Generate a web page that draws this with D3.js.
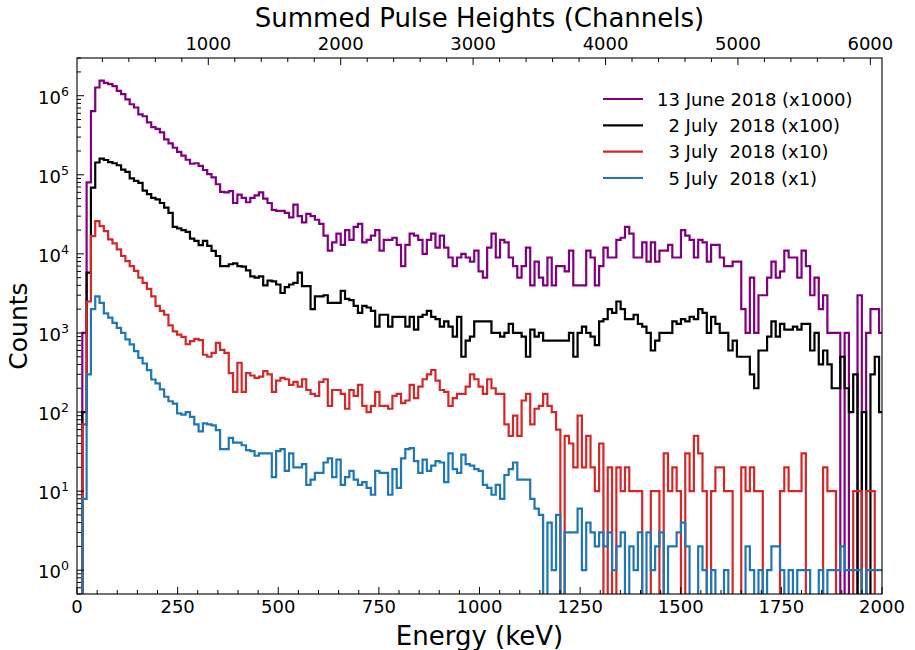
<!DOCTYPE html>
<html>
<head>
<meta charset="utf-8">
<script src="https://cdn.jsdelivr.net/npm/d3@7"></script>
<style>
  body { margin: 0; background: #fff; }
  text { font-family: "DejaVu Sans", sans-serif; fill: #000; }
</style>
</head>
<body>
<svg id="chart" width="915" height="650"></svg>
<script>
// Histogram binning (keV)
const binStart = 2.5;
const binWidth = 10.7;

// Raw counts per bin for each run (scaled by the factor in the legend when drawn)
const june13 = [0,1,80,640,1270,1550,1450,1400,1320,1150,
  1050,900,780,710,580,550,460,400,380,345,
  280,250,220,195,175,155,138,140,130,115,
  102,93,76,61,60,62,44,56,51,45,
  51,55,60,50,44,36,35,35,33,29,
  42,30,25,32,30,27,24,17,11,14,
  18,13,20,15,22,24,14,15,17,20,
  11,15,15,16,13,7,13,18,17,15,
  10,15,18,12,17,12,9,7,9,10,
  9,8,11,6,5,12,18,9,15,14,
  9,7,5,7,12,4,8,5,4,9,
  4,7,7,6,11,4,4,4,11,9,
  4,7,12,9,9,15,16,22,18,9,
  9,14,8,14,8,11,11,13,9,9,
  20,17,15,9,15,14,8,13,13,9,
  7,7,8,8,2,1,5,1,3,3,
  5,8,5,6,11,9,9,5,11,7,
  3,5,2,3,1,1,1,0,1,0,
  0,3,0,1,2,2,1];

const july2 = [0,1,58,690,1430,1600,1540,1450,1400,1320,
  1160,1090,900,840,790,630,570,510,490,440,
  385,330,220,210,200,190,156,146,129,146,
  126,109,94,70,70,74,76,70,69,62,
  52,50,52,40,46,45,41,32,38,41,
  43,58,39,39,20,29,29,30,24,24,
  24,34,27,26,22,18,22,21,19,12,
  17,17,12,16,16,16,12,16,11,16,
  17,19,16,15,12,14,12,9,16,5,
  8,9,14,14,14,14,10,10,9,10,
  13,10,10,9,5,11,9,10,8,8,
  8,8,8,8,10,5,10,12,10,9,
  7,14,15,20,18,25,20,15,15,17,
  13,12,10,6,8,10,10,10,14,13,
  15,14,16,15,20,18,10,16,13,10,
  10,6,8,5,5,5,3,2,6,6,
  9,14,9,13,11,11,12,11,13,13,
  6,10,4,6,4,2,2,5,2,1,
  3,0,1,0,3,5,1];

const july3 = [0,7,250,1680,2600,2250,1940,1530,1360,1140,
  940,810,700,610,500,430,360,290,220,190,
  170,125,105,95,89,72,79,84,81,53,
  50,56,75,61,56,31,18,42,18,31,
  29,27,28,33,30,18,25,27,26,22,
  24,21,26,19,17,16,24,26,12,19,
  19,17,11,19,16,22,12,10,12,18,
  12,12,11,16,17,13,14,22,15,21,
  26,30,34,25,19,18,12,15,17,17,
  21,30,26,21,17,26,20,17,17,7,
  5,9,5,14,17,7,11,12,17,12,
  10,6,0,5,4,2,9,2,5,2,
  1,4,0,2,0,2,1,2,1,1,
  1,0,0,1,1,0,3,1,2,1,
  0,3,1,5,3,1,0,1,2,2,
  1,1,0,0,2,1,2,1,1,0,
  0,0,0,1,2,1,1,1,3,0,
  0,0,0,2,1,1,0,0,0,0,
  1,1,0,1,1,0,0];

const july5 = [0,8,300,2000,2900,2400,1770,1560,1340,1160,
  1000,830,716,590,485,411,339,258,230,193,
  156,137,128,96,93,100,87,70,57,72,
  70,68,59,34,34,47,41,41,38,33,
  32,28,30,30,30,15,32,34,18,30,
  20,20,22,12,14,17,17,23,26,15,
  25,12,15,18,14,12,13,11,9,18,
  17,17,9,19,11,26,34,35,24,17,
  25,18,21,24,23,13,30,19,17,29,
  22,21,19,18,12,11,9,12,8,16,
  19,23,14,14,14,8,6,5,0,4,
  1,5,0,3,3,3,6,1,4,3,
  2,3,2,3,1,2,3,0,2,1,
  3,0,3,1,2,3,0,2,2,3,
  4,2,0,0,2,1,0,1,0,0,
  1,0,0,0,0,2,1,0,1,0,
  1,2,2,1,0,1,0,1,1,1,
  0,0,1,0,1,1,1,2,1,1,
  1,1,0,1,1,1,1];

const seriesCounts = [june13, july2, july3, july5];
const seriesScales = [1000, 100, 10, 1];
const seriesLabels = ["13 June 2018 (x1000)", "  2 July  2018 (x100)",
                      "  3 July  2018 (x10)", "  5 July  2018 (x1)"];
const seriesColors = ["#800080", "#000000", "#d62728", "#1f77b4"];

const energyTicks = [0, 250, 500, 750, 1000, 1250, 1500, 1750, 2000];
const channelTicks = [1000, 2000, 3000, 4000, 5000, 6000];
const countExponents = [0, 1, 2, 3, 4, 5, 6];

// Layout
const L = 77, R = 882, T = 58, B = 594;
const svg = d3.select("#chart");
svg.append("rect").attr("width", 915).attr("height", 650).attr("fill", "#fff");

const x = d3.scaleLinear().domain([0, 2000]).range([L, R]);
const xTop = d3.scaleLinear().domain([8.3, 6088]).range([L, R]);
const y = d3.scaleLog().domain([0.5, 3e6]).range([B, T]);

svg.append("clipPath").attr("id", "plotClip")
  .append("rect").attr("x", L).attr("y", T).attr("width", R - L).attr("height", B - T);

// Step outline for a histogram; empty bins fall below the visible range
function stepPath(counts, scale) {
  const below = B + 60;
  const yv = c => c > 0 ? y(c * scale) : below;
  const pts = [[x(binStart), below]];
  counts.forEach((c, i) => {
    const e0 = binStart + i * binWidth, e1 = e0 + binWidth;
    pts.push([x(e0), yv(c)], [x(e1), yv(c)]);
  });
  pts.push([x(binStart + counts.length * binWidth), below]);
  return d3.line()(pts);
}

const plot = svg.append("g").attr("clip-path", "url(#plotClip)");
seriesCounts.forEach((counts, i) => {
  plot.append("path")
    .attr("d", stepPath(counts, seriesScales[i]))
    .attr("fill", "none")
    .attr("stroke", seriesColors[i])
    .attr("stroke-width", 2.2)
    .attr("stroke-linejoin", "miter");
});

// Frame
svg.append("rect").attr("x", L).attr("y", T).attr("width", R - L).attr("height", B - T)
  .attr("fill", "none").attr("stroke", "#000").attr("stroke-width", 1.1);

const ticks = svg.append("g").attr("stroke", "#000").attr("stroke-width", 1);
const MAJ = 7, MIN = 4;

// Bottom energy axis (ticks point inward)
d3.range(0, 2001, 50).forEach(v => {
  const major = v % 250 === 0;
  ticks.append("line").attr("x1", x(v)).attr("x2", x(v))
    .attr("y1", B).attr("y2", B - (major ? MAJ : MIN));
});
svg.append("g").selectAll("text").data(energyTicks).join("text")
  .attr("x", d => x(d)).attr("y", 613).attr("text-anchor", "middle")
  .attr("font-size", 18).text(d => d);

// Top channel axis
d3.range(200, 6001, 200).forEach(v => {
  const major = v % 1000 === 0;
  ticks.append("line").attr("x1", xTop(v)).attr("x2", xTop(v))
    .attr("y1", T).attr("y2", T + (major ? MAJ : MIN));
});
svg.append("g").selectAll("text").data(channelTicks).join("text")
  .attr("x", d => xTop(d)).attr("y", 50).attr("text-anchor", "middle")
  .attr("font-size", 18).text(d => d);

// Left log axis
for (let k = -1; k <= 6; k++) {
  for (let j = 1; j <= 9; j++) {
    const v = j * Math.pow(10, k);
    if (v < 0.5 || v > 3e6) continue;
    ticks.append("line").attr("x1", L).attr("x2", L + (j === 1 ? MAJ : MIN))
      .attr("y1", y(v)).attr("y2", y(v));
  }
}
const yl = svg.append("g").selectAll("text").data(countExponents).join("text")
  .attr("x", 69).attr("y", d => y(Math.pow(10, d)) + 8)
  .attr("text-anchor", "end").attr("font-size", 18);
yl.append("tspan").text("10");
yl.append("tspan").attr("dy", -8).attr("font-size", 12.6).text(d => d);

// Axis titles
svg.append("text").attr("x", (L + R) / 2).attr("y", 645).attr("text-anchor", "middle")
  .attr("font-size", 26).text("Energy (keV)");
svg.append("text").attr("x", (L + R) / 2).attr("y", 27).attr("text-anchor", "middle")
  .attr("font-size", 26).text("Summed Pulse Heights (Channels)");
svg.append("text").attr("transform", `translate(27,${(T + B) / 2}) rotate(-90)`)
  .attr("text-anchor", "middle").attr("font-size", 25).text("Counts");

// Legend
const rowY = [99, 125.3, 151.7, 178];
const lg = svg.append("g");
seriesLabels.forEach((lab, i) => {
  lg.append("line").attr("x1", 603).attr("x2", 643).attr("y1", rowY[i]).attr("y2", rowY[i])
    .attr("stroke", seriesColors[i]).attr("stroke-width", 2.2);
  lg.append("text").attr("x", 657).attr("y", rowY[i] + 6.5).attr("font-size", 18)
    .style("white-space", "pre").attr("xml:space", "preserve").text(lab);
});
</script>
</body>
</html>
